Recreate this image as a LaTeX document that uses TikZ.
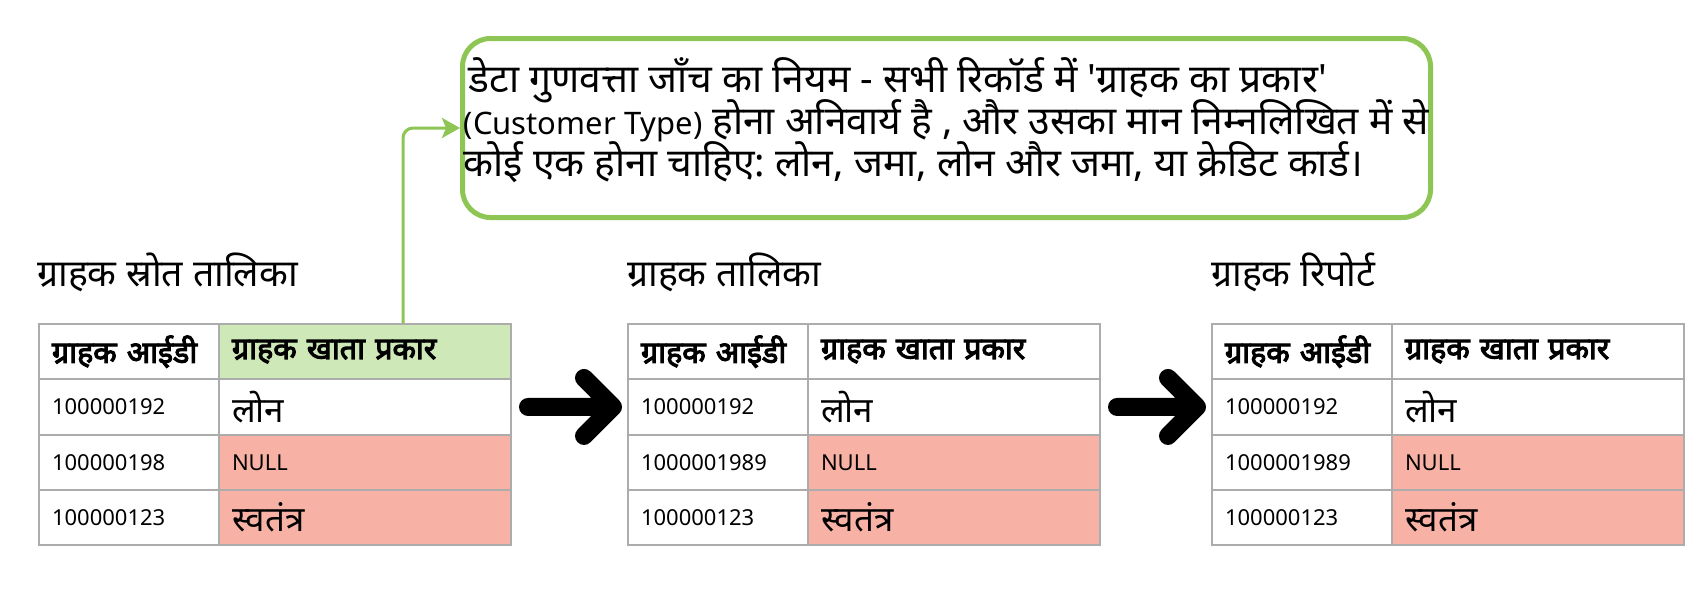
\documentclass[tikz,border=0pt]{standalone}
\usepackage{fontspec}
\setmainfont{Noto Sans}[Script=Devanagari,Ligatures=TeXOff]
\newfontfamily\hbfont{Noto Sans}[Script=Devanagari,FakeBold=3.5]
\usetikzlibrary{arrows.meta,calc}
\frenchspacing
\definecolor{gboxc}{RGB}{141,198,84}
\definecolor{ghead}{RGB}{206,232,184}
\definecolor{redc}{RGB}{248,178,165}
\definecolor{tgray}{RGB}{172,172,172}
\newcommand\hfnt{\hbfont\fontsize{30.5}{34}\selectfont}
\newcommand\nfnt{\fontsize{22}{26}\selectfont}
\newcommand\dfnt{\fontsize{35}{40}\selectfont}
\newcommand\tfnt{\fontsize{37.5}{42}\selectfont}
\newcommand\bfnt{\fontsize{39}{42}\selectfont\lineskiplimit=-100pt\lineskip=0pt}
\newcommand\latn[1]{{\fontsize{31}{42}\selectfont #1}}
\newcommand\drawtable[4]{%
  \node[cellA,font=\hfnt] (#1-h1) at (#2,323) {ग्राहक आईडी};
  \node[cellB,font=\hfnt,fill=#4] (#1-h2) at (#2+180,323) {ग्राहक खाता प्रकार};
  \node[cellA] (#1-r1a) at (#2,378.3) {100000192};
  \node[cellB,font=\dfnt] (#1-r1b) at (#2+180,378.3) {लोन};
  \node[cellA] (#1-r2a) at (#2,433.6) {#3};
  \node[cellB,fill=redc] (#1-r2b) at (#2+180,433.6) {NULL};
  \node[cellA] (#1-r3a) at (#2,488.9) {100000123};
  \node[cellB,font=\dfnt,fill=redc] (#1-r3b) at (#2+180,488.9) {स्वतंत्र};
}
\begin{document}
\begin{tikzpicture}[x=1pt,y=-1pt,
  cell/.style={draw=tgray,line width=2pt,anchor=north west,minimum height=55.3pt,
    inner xsep=13pt,inner ysep=0pt,align=left,font=\nfnt},
  cellA/.style={cell,text width=154pt},
  cellB/.style={cell,text width=266pt},
  title/.style={anchor=base west,inner sep=0pt,font=\tfnt},
  rulebox/.style={draw=gboxc,line width=5pt,rounded corners=28pt,anchor=north west,
    minimum width=968pt,minimum height=179pt,align=left,inner sep=0pt,font=\bfnt},
  gconn/.style={draw=gboxc,line width=3pt,rounded corners=10pt,
    -{Stealth[length=18pt,width=20pt,inset=4pt]}},
  blk/.style={line width=18pt,line cap=round,line join=round}]
\useasboundingbox[fill=white] (0,0) rectangle (1690,592);

\node[title] (tt1) at (37,286) {ग्राहक स्रोत तालिका};
\node[title] (tt2) at (627,286) {ग्राहक तालिका};
\node[title] (tt3) at (1211,286) {ग्राहक रिपोर्ट};

\drawtable{1}{38}{100000198}{ghead}
\drawtable{2}{627}{1000001989}{white}
\drawtable{3}{1211}{1000001989}{white}

\node[rulebox] (rule) at (460,36) {\hspace*{5pt}डेटा गुणवत्ता जाँच का नियम - सभी रिकॉर्ड में 'ग्राहक का प्रकार'\\\latn{(Customer Type)} होना अनिवार्य है , और उसका मान निम्नलिखित में से\\कोई एक होना चाहिए: लोन, जमा, लोन और जमा, या क्रेडिट कार्ड।\rule[-21pt]{0pt}{1pt}};

\coordinate (cstart) at ($(1-h2.north west)+(185,0)$);
\draw[gconn] (cstart) |- (rule.west);

\draw[blk] ($(1-r1b.east)+(16,0)$) -- ($(2-r1a.west)+(-14,0)$)
  ($(2-r1a.west)+(-43,-29)$) -- ($(2-r1a.west)+(-14,0)$) -- ($(2-r1a.west)+(-43,29)$);
\draw[blk] ($(2-r1b.east)+(16,0)$) -- ($(3-r1a.west)+(-14,0)$)
  ($(3-r1a.west)+(-43,-29)$) -- ($(3-r1a.west)+(-14,0)$) -- ($(3-r1a.west)+(-43,29)$);
\end{tikzpicture}
\end{document}
